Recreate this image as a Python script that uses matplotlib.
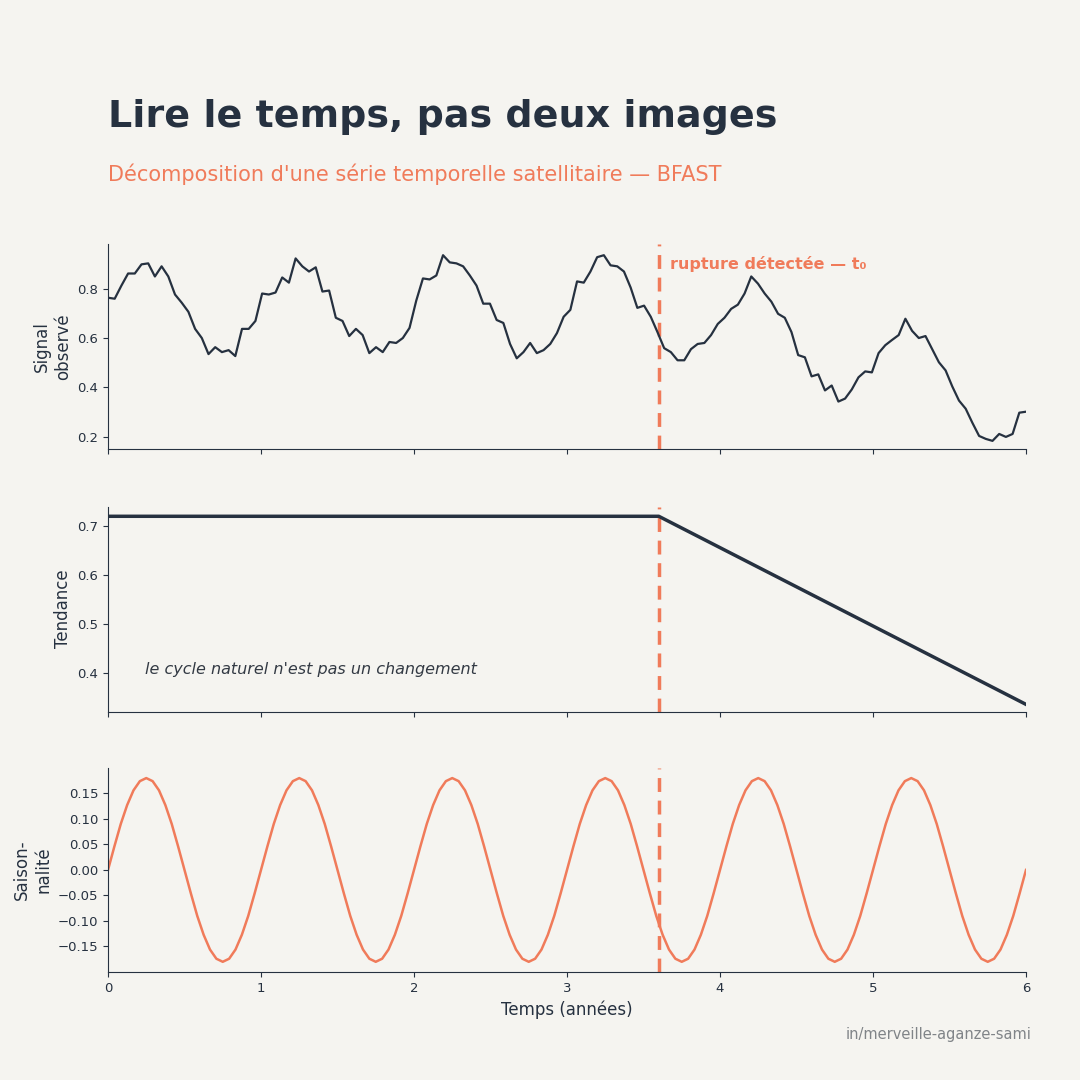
import numpy as np
import matplotlib
matplotlib.use("Agg")
import matplotlib.pyplot as plt

BG = "#f5f4f0"
DARK = "#263140"
ORANGE = "#f07b5a"

signal = [.763, .759, .812, .861, .861, .898, .902, .849, .890, .849, .776, .743, .706, .637,
          .600, .535, .563, .543, .551, .527, .637, .637, .669, .780, .776, .784, .845, .824,
          .922, .890, .869, .886, .788, .792, .682, .669, .608, .637, .612, .539, .563, .543,
          .584, .580, .600, .641, .751, .841, .837, .853, .935, .906, .902, .890, .853, .812,
          .739, .739, .673, .661, .576, .518, .543, .580, .539, .551, .576, .620, .686, .714,
          .829, .824, .869, .927, .935, .894, .890, .869, .804, .722, .731, .686, .624, .559,
          .543, .510, .510, .555, .576, .580, .612, .657, .682, .718, .735, .780, .849, .820,
          .780, .747, .698, .682, .624, .531, .522, .445, .453, .388, .408, .343, .355, .392,
          .441, .465, .461, .539, .571, .592, .612, .678, .629, .600, .608, .555, .502, .469,
          .404, .347, .314, .257, .204, .192, .184, .212, .200, .212, .298, .302]
t_signal = np.linspace(0, 6, len(signal))

# trend breakpoints
trend_t = [0, 3.6, 6]
trend_v = [0.72, 0.72, 0.335]

# one seasonal cycle (24 samples per year), repeated over 6 years
season_cycle = [0, .046, .090, .127, .156, .174, .180, .174, .156, .127, .090, .046,
                0, -.046, -.090, -.127, -.156, -.174, -.180, -.174, -.156, -.127, -.090, -.046]
season = season_cycle * 6 + [0]
t_season = np.linspace(0, 6, len(season))

t_break = 3.6

fig = plt.figure(figsize=(10.8, 10.8), dpi=100, facecolor=BG)
ax1 = fig.add_axes([0.1, 0.584, 0.85, 0.19])
ax2 = fig.add_axes([0.1, 0.341, 0.85, 0.19])
ax3 = fig.add_axes([0.1, 0.1, 0.85, 0.189])

for ax in (ax1, ax2, ax3):
    ax.set_facecolor(BG)
    ax.spines[["top", "right"]].set_visible(False)
    for s in ("left", "bottom"):
        ax.spines[s].set_color(DARK)
    ax.tick_params(colors=DARK, labelsize=9.5)
    ax.set_xlim(0, 6)
    ax.axvline(t_break, color=ORANGE, lw=2.5, ls=(0, (4, 2.5)))

ax1.plot(t_signal, signal, color=DARK, lw=1.6)
ax1.set_ylim(0.15, 0.98)
ax1.set_yticks([0.2, 0.4, 0.6, 0.8])
ax1.set_ylabel("Signal\nobservé", fontsize=12, color=DARK)
ax1.text(3.67, 0.88, "rupture détectée — t₀", color=ORANGE, fontsize=11.5, fontweight="bold")
ax1.tick_params(labelbottom=False)

ax2.plot(trend_t, trend_v, color=DARK, lw=2.5)
ax2.set_ylim(0.32, 0.74)
ax2.set_yticks([0.4, 0.5, 0.6, 0.7])
ax2.set_ylabel("Tendance", fontsize=12, color=DARK)
ax2.text(0.24, 0.397, "le cycle naturel n'est pas un changement", fontsize=11.5,
         style="italic", color="#333a44")
ax2.tick_params(labelbottom=False)

ax3.plot(t_season, season, color=ORANGE, lw=1.8)
ax3.set_ylim(-0.2, 0.2)
ax3.set_yticks(np.arange(-0.15, 0.151, 0.05))
ax3.set_ylabel("Saison-\nnalité", fontsize=12, color=DARK)
ax3.set_xlabel("Temps (années)", fontsize=12, color=DARK)

fig.text(0.1, 0.892, "Lire le temps, pas deux images", fontsize=27.4, fontweight="bold",
         color=DARK, va="center")
fig.text(0.1, 0.839, "Décomposition d'une série temporelle satellitaire — BFAST", fontsize=15,
         color=ORANGE, va="center")
fig.text(0.955, 0.038, "in/merveille-aganze-sami", fontsize=10.5, color="#808488", ha="right")

fig.savefig("out.png", dpi=100, facecolor=BG)
